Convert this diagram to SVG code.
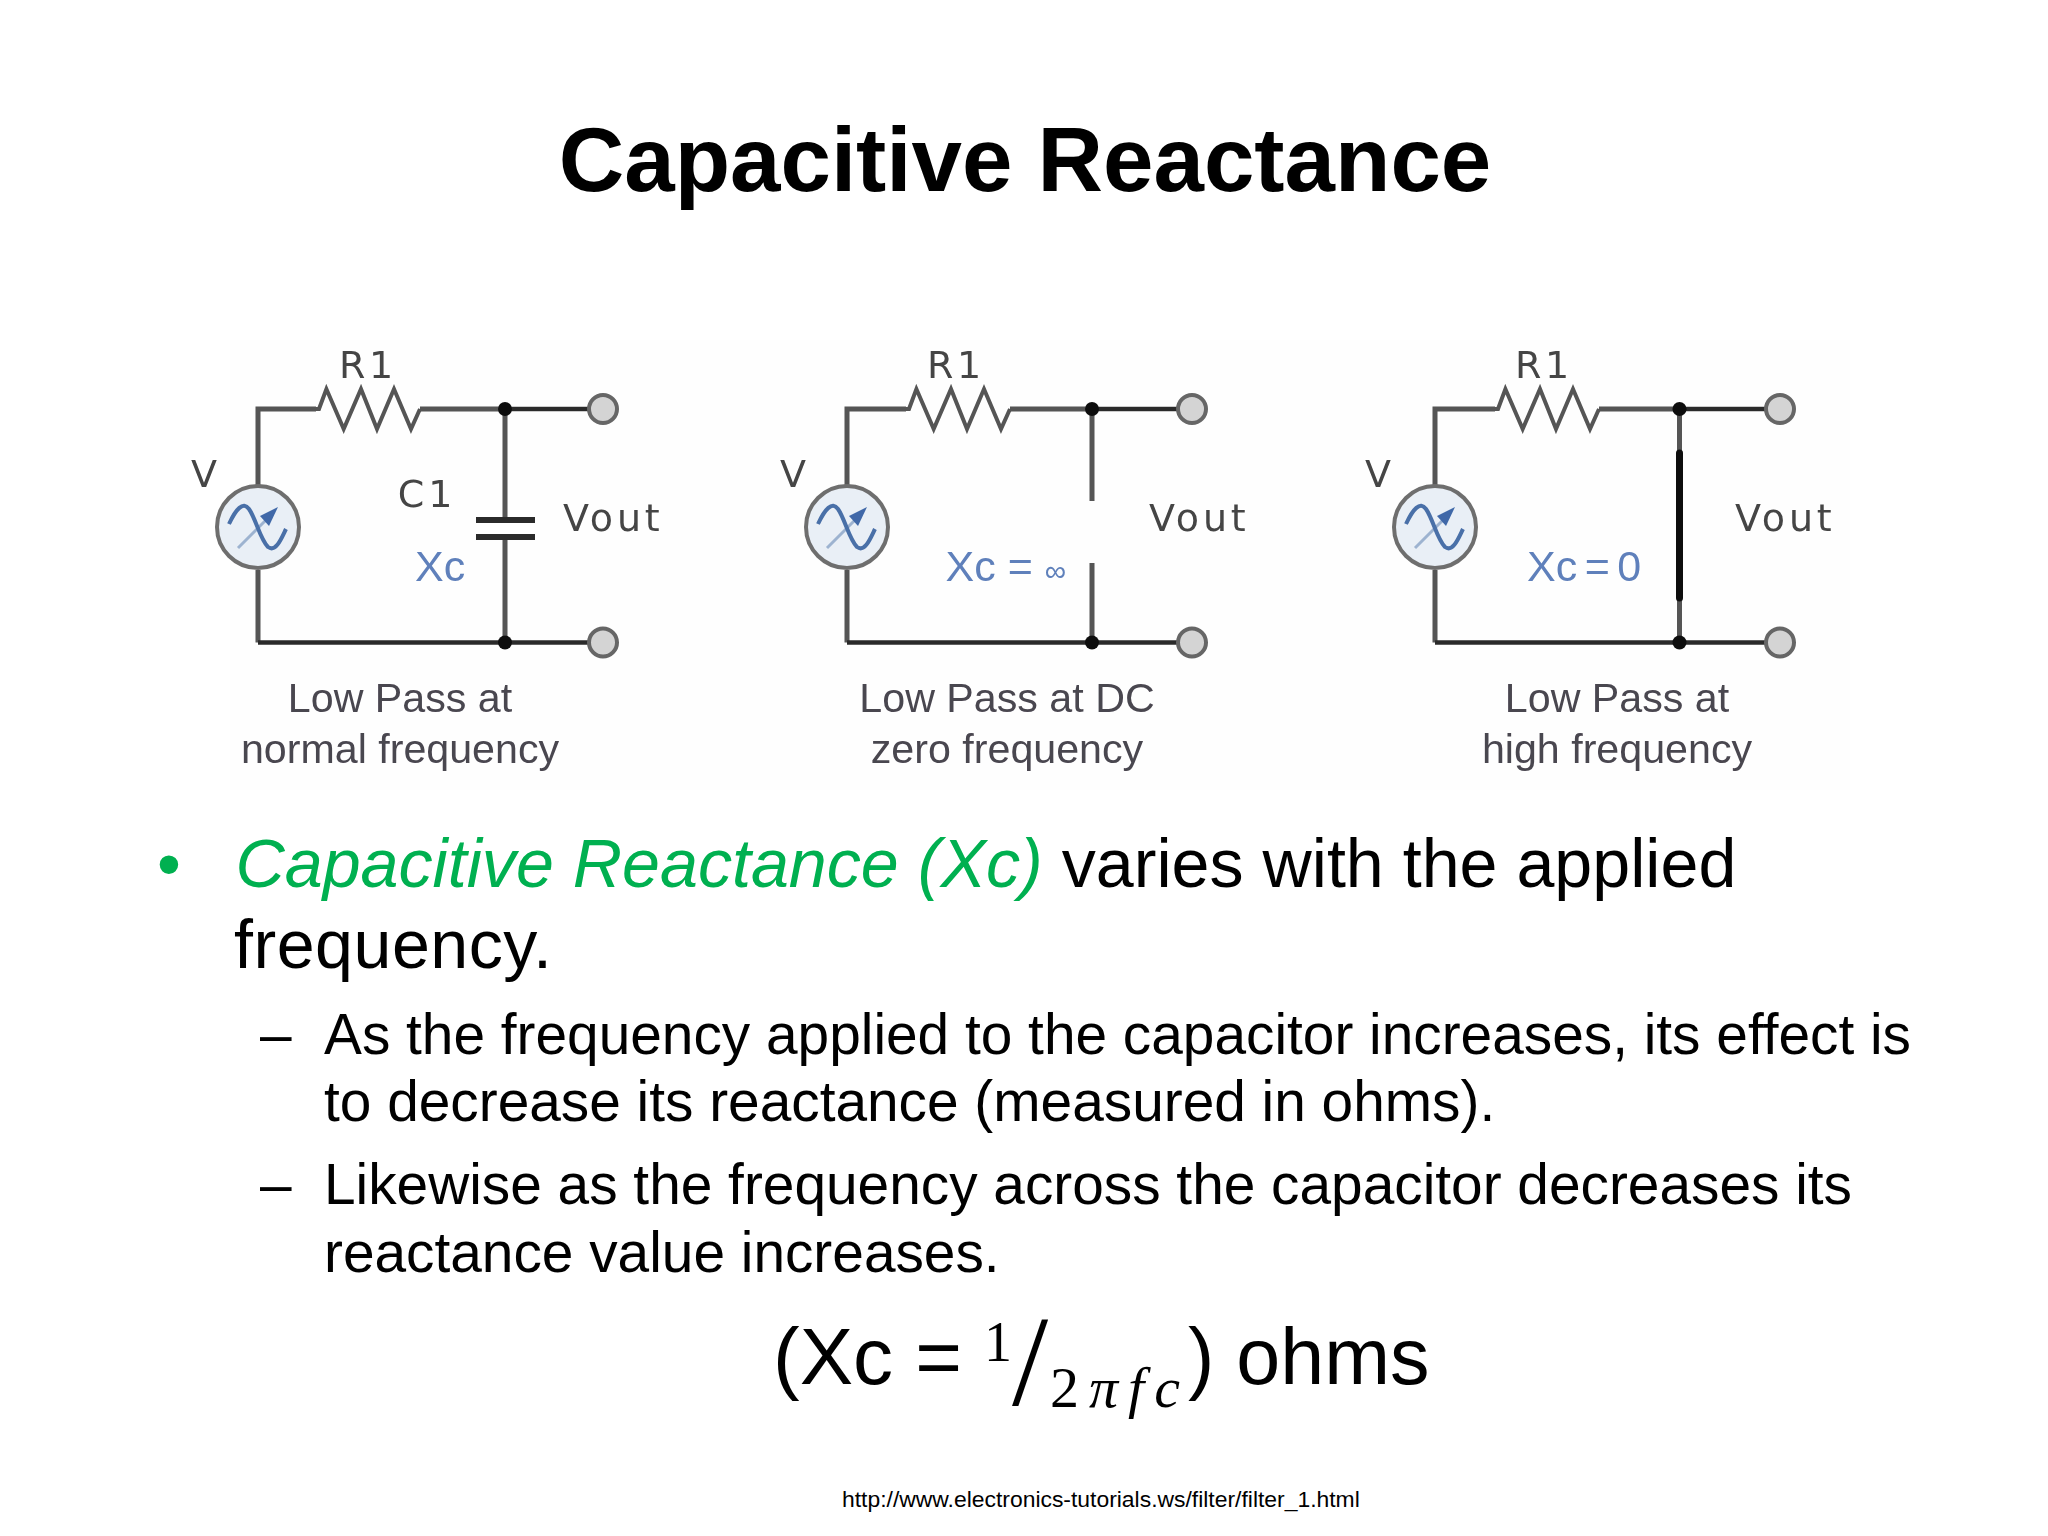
<svg xmlns="http://www.w3.org/2000/svg" width="2048" height="1536" viewBox="0 0 2048 1536">
<style>
text{font-family:"Liberation Sans",Arial,sans-serif;fill:#000}
.t{font-weight:700;font-size:90.700px}
.b{font-size:68.200px}
.s{font-size:56.800px}
.f{font-size:80px}
.m{font-family:"Liberation Serif","DejaVu Serif",serif}
.d{font-family:"DejaVu Sans",sans-serif;font-size:38px;fill:#444}
.v{letter-spacing:3.800px}
.x{font-size:43px;fill:#5f80bb}
.c{font-size:41.200px;fill:#4a4650;text-anchor:middle}
.w{fill:none;stroke:#555;stroke-width:5}
.k{fill:none;stroke:#2c2c2c;stroke-width:4.500}
.r{fill:none;stroke:#555;stroke-width:4;stroke-linejoin:miter}
.j{fill:#111}
.o{fill:#d4d4d4;stroke:#666;stroke-width:4}
.src{fill:#e9eff6;stroke:#6e6e6e;stroke-width:4}
.sin{fill:none;stroke:#4a6fa8;stroke-width:4}
.arr{fill:none;stroke:#9db3d0;stroke-width:3}
.ah{fill:#3f68a8}
.soft{filter:url(#soft)}
</style>
<defs>
<filter id="soft" x="-5%" y="-5%" width="110%" height="110%"><feGaussianBlur stdDeviation="0.700"/></filter>
<g id="res"><path class="r" d="M0 0H3L10.400 -20L27.700 20L45 -20L61 20L78 -20L95 20L104 0"/></g>
<g id="acs"><circle class="src" r="41"/><path class="arr" d="M-20 21L8 -7"/><path class="ah" d="M20 -20L2 -11L11 -1Z"/><path class="sin" d="M-29 -3C-22 -18 -15 -26 -9 -18C-2 -8 2 12 10 20C18 26 24 10 28 2"/></g>
<circle id="term" class="o" r="14"/>
<circle id="dot" class="j" r="7"/>
</defs>
<rect width="2048" height="1536" fill="#fff"/>
<rect x="230" y="340" width="1620" height="450" fill="#fefefe"/>
<text id="title" class="t" x="1025" y="191" text-anchor="middle">Capacitive Reactance</text>
<g id="connectors" class="soft">
<path class="w" d="M420 409H505M505 409V520M505 537V642.500M258 486V409H316M258 570V642.500"/>
<path class="k" d="M258 642.500H603M505 409H590"/>
<path class="k" d="M476 520H535M476 537H535" style="stroke-width:6"/>
<path class="w" d="M1010 409H1092M1092 409V501M1092 563V642.500M847 486V409H906M847 570V642.500"/>
<path class="k" d="M847 642.500H1192M1092 409H1178"/>
<path class="w" d="M1599 409H1679.500M1679.500 409V454M1679.500 600V642.500M1435 486V409H1495M1435 570V642.500"/>
<path class="k" d="M1435 642.500H1780M1679.500 409H1766"/>
<path d="M1679.500 453V598" fill="none" stroke="#111" stroke-width="7" stroke-linecap="round"/>
</g>
<g id="circuit-1" class="soft">
<use href="#res" x="316" y="409"/><use href="#acs" x="258" y="527"/>
<use href="#dot" x="505" y="409"/><use href="#dot" x="505" y="642.500"/>
<use href="#term" x="603" y="409"/><use href="#term" x="603" y="642.500"/>
<text class="d v" x="368" y="378" text-anchor="middle">R1</text>
<text class="d" x="204" y="487" text-anchor="middle">V</text>
<text class="d v" x="427" y="507" text-anchor="middle">C1</text>
<text class="d v" x="563" y="531">Vout</text>
<text class="x" x="415" y="581">Xc</text>
<text class="c" x="400" y="712">Low Pass at</text>
<text class="c" x="400" y="763">normal frequency</text>
</g>
<g id="circuit-2" class="soft">
<use href="#res" x="906" y="409"/><use href="#acs" x="847" y="527"/>
<use href="#dot" x="1092" y="409"/><use href="#dot" x="1092" y="642.500"/>
<use href="#term" x="1192" y="409"/><use href="#term" x="1192" y="642.500"/>
<text class="d v" x="956" y="378" text-anchor="middle">R1</text>
<text class="d" x="793" y="487" text-anchor="middle">V</text>
<text class="d v" x="1149" y="531">Vout</text>
<text class="x" x="945.500" y="581">Xc = <tspan font-size="30">∞</tspan></text>
<text class="c" x="1007" y="712">Low Pass at DC</text>
<text class="c" x="1007" y="763">zero frequency</text>
</g>
<g id="circuit-3" class="soft">
<use href="#res" x="1495" y="409"/><use href="#acs" x="1435" y="527"/>
<use href="#dot" x="1679.500" y="409"/><use href="#dot" x="1679.500" y="642.500"/>
<use href="#term" x="1780" y="409"/><use href="#term" x="1780" y="642.500"/>
<text class="d v" x="1544" y="378" text-anchor="middle">R1</text>
<text class="d" x="1378" y="487" text-anchor="middle">V</text>
<text class="d v" x="1735" y="531">Vout</text>
<text class="x" x="1527" y="581" word-spacing="-4.500">Xc = 0</text>
<text class="c" x="1617" y="712">Low Pass at</text>
<text class="c" x="1617" y="763">high frequency</text>
</g>
<g id="body">
<text class="b" x="157" y="887" style="fill:#00b050">•</text>
<text class="b" x="235.500" y="887"><tspan font-style="italic" style="fill:#00b050">Capacitive Reactance (Xc)</tspan> varies with the applied</text>
<text class="b" x="234" y="968" letter-spacing="0.500">frequency.</text>
<text class="s" x="260" y="1054">–</text>
<text class="s" x="324" y="1054">As the frequency applied to the capacitor increases, its effect is</text>
<text class="s" x="324" y="1121">to decrease its reactance (measured in ohms).</text>
<text class="s" x="260" y="1204">–</text>
<text class="s" x="324" y="1204">Likewise as the frequency across the capacitor decreases its</text>
<text class="s" x="324" y="1272">reactance value increases.</text>
</g>
<g id="formula">
<text class="f" x="773" y="1384">(Xc =</text>
<text class="m" x="984" y="1361" font-size="56">1</text>
<text class="m" x="1012" y="1405" font-size="130">/</text>
<text class="m" x="1050" y="1407" font-size="58" letter-spacing="10">2<tspan font-style="italic">πfc</tspan></text>
<text x="1188" y="1384" font-size="79">) ohms</text>
</g>
<text id="source" x="842" y="1507" font-size="22.900">http://www.electronics-tutorials.ws/filter/filter_1.html</text>
</svg>
